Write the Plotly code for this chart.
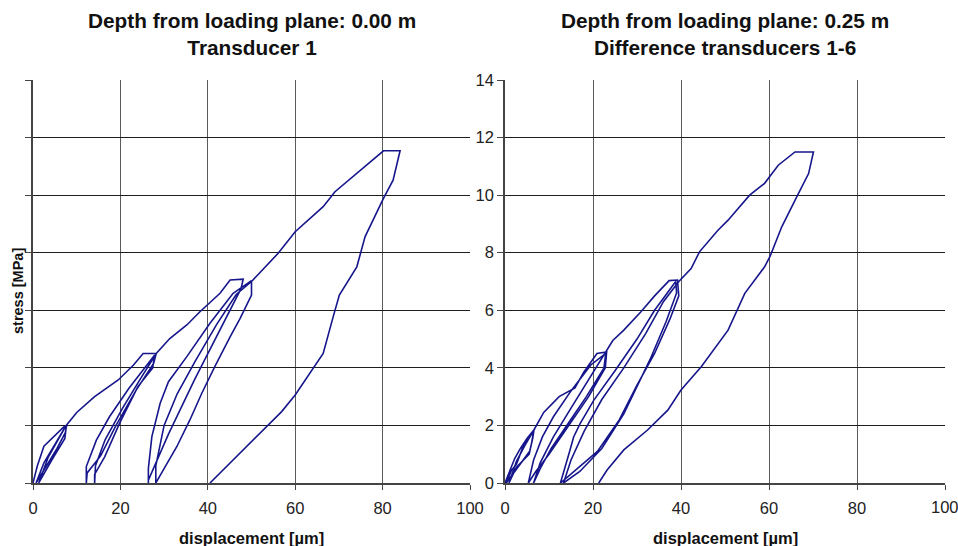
import plotly.graph_objects as go

# ---- Data (displacement [µm], stress [MPa]) ----
left_x = [0, 1.0, 2.5, 4.6, 7.1, 7.7, 7.4, 5.5, 3.0, 0.7, 2.5, 5.0, 7.2, 7.6, 7.3, 4.5, 1.3, 3.5, 6.0, 7.6,
          10.0, 14.1, 19.5, 23.0, 25.2, 28.2,
          27.6, 23.5, 19.0, 15.5, 12.4, 12.2, 12.2, 14.5, 17.5, 22.0, 27.8, 27.4, 24.0, 19.8, 16.4, 14.1, 14.1,
          14.3, 16.5, 20.5, 24.5, 27.9, 28.2,
          31.3, 35.2, 38.2, 42.8, 45.1, 48.1,
          47.6, 43.0, 37.0, 31.0, 27.5, 26.4, 26.4, 26.4, 27.2, 29.1, 31.0, 35.2, 40.5, 45.8, 50.0,
          50.0, 47.4, 45.1, 41.6, 38.6, 35.9, 32.9, 29.4, 28.1, 28.1, 30.0, 33.0, 37.0, 42.0, 46.5, 50.0,
          56.1, 60.0, 66.4, 69.1, 80.2, 84.0, 82.4, 80.2, 76.0, 74.1, 70.1, 68.7, 66.4, 60.0, 56.9, 40.5]
left_y = [0, 0.6, 1.28, 1.6, 1.96, 2.0, 1.75, 1.2, 0.55, 0, 0.7, 1.35, 1.9, 1.95, 1.55, 0.85, 0, 0.9, 1.55, 2.0,
          2.45, 3.0, 3.58, 4.1, 4.5, 4.5,
          4.15, 3.2, 2.0, 0.95, 0.35, 0, 0.57, 1.49, 2.3, 3.3, 4.44, 4.0, 3.35, 2.07, 0.91, 0.3, 0,
          0.6, 1.5, 2.6, 3.6, 4.45, 4.5,
          5.02, 5.49, 5.95, 6.59, 7.05, 7.08,
          6.75, 5.4, 3.6, 1.7, 0.5, 0.1, 0, 0.5, 1.61, 2.77, 3.52, 4.39, 5.55, 6.59, 7.03,
          6.53, 5.72, 5.08, 4.04, 3.11, 2.19, 1.26, 0.34, 0, 0.6, 2.0, 3.1, 4.2, 5.5, 6.55, 7.0,
          7.98, 8.73, 9.6, 10.12, 11.54, 11.54, 10.52, 9.89, 8.56, 7.51, 6.53, 5.78, 4.5, 3.06, 2.48, 0]

right_x = [0, 1.2, 2.2, 3.5, 5.0, 6.6, 6.3, 5.6, 3.2, 1.5, 0.3, 1.5, 2.6, 4.1, 6.5, 6.0, 5.5, 2.6, 0.9,
           2.6, 4.5, 6.6,
           8.8, 12.3, 15.9, 17.9, 20.9, 23.1,
           22.8, 19.0, 14.0, 10.0, 7.0, 5.3, 6.5, 8.5, 11.0, 15.0, 19.5, 22.9, 22.5, 18.5, 14.5, 10.5, 8.0, 6.5,
           8.0, 11.0, 15.0, 19.0, 22.6,
           24.5, 27.0, 30.9, 34.0, 37.3, 39.2,
           39.5, 37.5, 34.0, 30.0, 26.0, 21.0, 15.0, 12.6, 14.5, 15.6, 17.1, 20.2, 25.0, 30.0, 34.0, 38.8,
           39.0, 36.6, 33.0, 29.5, 27.0, 22.0, 17.0, 13.3, 15.0, 18.0, 22.0, 27.0, 32.0, 36.0, 39.5,
           42.3, 44.2, 48.4, 50.7, 55.6, 59.0, 62.1, 65.9, 70.1, 69.0, 66.3, 62.9, 60.2, 59.0, 54.5, 50.7,
           44.6, 40.0, 37.0, 32.4, 27.0, 23.2, 21.3]
right_y = [0, 0.5, 0.85, 1.2, 1.55, 1.85, 1.55, 1.1, 0.6, 0.25, 0, 0.45, 0.65, 1.26, 1.8, 1.35, 1.0, 0.55, 0,
           0.75, 1.3, 1.85,
           2.45, 3.0, 3.3, 3.85, 4.5, 4.55,
           4.0, 3.0, 1.9, 1.0, 0.4, 0, 0.8, 1.6, 2.3, 3.2, 4.1, 4.5, 4.0, 3.0, 2.1, 1.2, 0.5, 0,
           0.7, 1.6, 2.6, 3.6, 4.5,
           4.95, 5.31, 5.95, 6.5, 7.03, 7.05,
           6.5, 5.7, 4.5, 3.4, 2.2, 1.1, 0.3, 0, 1.0, 1.6, 2.07, 2.88, 3.9, 5.0, 6.0, 7.0,
           6.6, 5.6, 4.3, 3.2, 2.4, 1.2, 0.4, 0, 0.8, 1.8, 2.9, 4.0, 5.2, 6.3, 7.0,
           7.45, 8.03, 8.78, 9.13, 10.0, 10.41, 11.04, 11.5, 11.5, 10.75, 9.94, 8.9, 7.86, 7.51, 6.59, 5.31,
           4.04, 3.23, 2.53, 1.84, 1.15, 0.45, 0]

x_ticks = [0, 20, 40, 60, 80, 100]
y_ticks = [0, 2, 4, 6, 8, 10, 12, 14]

titles = ["<b>Depth from loading plane: 0.00 m<br>Transducer 1</b>",
          "<b>Depth from loading plane: 0.25 m<br>Difference transducers 1-6</b>"]
x_title = "<b>displacement [µm]</b>"
y_title = "<b>stress [MPa]</b>"

W, H = 958, 546
FONT = "Liberation Sans, Arial, sans-serif"
LINE = "#16168c"
TICKFONT = dict(family=FONT, size=16.5, color="#222")

fig = go.Figure()
fig.add_trace(go.Scatter(x=left_x, y=left_y, mode="lines", line=dict(color=LINE, width=1.6),
                         xaxis="x", yaxis="y", showlegend=False, hoverinfo="skip"))
fig.add_trace(go.Scatter(x=right_x, y=right_y, mode="lines", line=dict(color=LINE, width=1.6),
                         xaxis="x2", yaxis="y2", showlegend=False, hoverinfo="skip"))

xdom1 = [33 / W, 470 / W]
xdom2 = [505 / W, 945 / W]
ydom = [(H - 483) / H, (H - 80) / H]

def xax(dom, anchor):
    return dict(domain=dom, anchor=anchor, range=[0, 100], tickvals=x_ticks,
                showgrid=True, gridcolor="#5a5a5a", gridwidth=1.4,
                showline=True, linecolor="#444", linewidth=1.5,
                ticks="outside", ticklen=5, tickcolor="#444", tickwidth=1.3,
                tickfont=TICKFONT, ticklabelstandoff=4,
                zeroline=False, fixedrange=True, automargin=False)

def yax(anchor, labels):
    return dict(domain=ydom, anchor=anchor, range=[0, 14], tickvals=y_ticks,
                showticklabels=labels,
                showgrid=True, gridcolor="#1e1e1e", gridwidth=1.2,
                showline=True, linecolor="#444", linewidth=1.5,
                ticks="outside", ticklen=6, tickcolor="#444", tickwidth=1.3,
                tickfont=TICKFONT,
                zeroline=False, fixedrange=True, automargin=False)

annotations = []
for t, dom in zip(titles, [xdom1, xdom2]):
    annotations.append(dict(text=t, x=(dom[0] + dom[1]) / 2, y=(H - 34) / H, xref="paper", yref="paper",
                            xanchor="center", yanchor="middle", showarrow=False,
                            font=dict(family=FONT, size=20.8, color="#111")))
    annotations.append(dict(text=x_title, x=(dom[0] + dom[1]) / 2, y=(H - 538) / H, xref="paper",
                            yref="paper", xanchor="center", yanchor="middle", showarrow=False,
                            font=dict(family=FONT, size=16.5, color="#111")))
annotations.append(dict(text=y_title, x=18 / W, y=(H - 291) / H, xref="paper", yref="paper",
                        xanchor="center", yanchor="middle", showarrow=False, textangle=-90,
                        font=dict(family=FONT, size=14.5, color="#111")))
# right-most tick label of the right panel, clipped by the page edge as in the original
annotations.append(dict(text=str(x_ticks[-1]), x=100, y=0, xref="x2", yref="paper",
                        yshift=-(H - 507) + (H - 483) * 0 , xanchor="center", yanchor="middle",
                        showarrow=False, font=TICKFONT))

fig.update_layout(
    width=W, height=H, margin=dict(l=0, r=0, t=0, b=0),
    paper_bgcolor="white", plot_bgcolor="white",
    xaxis=xax(xdom1, "y"), yaxis=yax("x", False),
    xaxis2=xax(xdom2, "y2"), yaxis2=yax("x2", True),
    annotations=annotations, showlegend=False,
)
# place the clipped label at the tick-label row (507 px from top)
fig.layout.annotations[-1].y = (H - 507) / H
fig.layout.annotations[-1].yshift = 0

fig.write_html("out.html", config={"displayModeBar": False})
